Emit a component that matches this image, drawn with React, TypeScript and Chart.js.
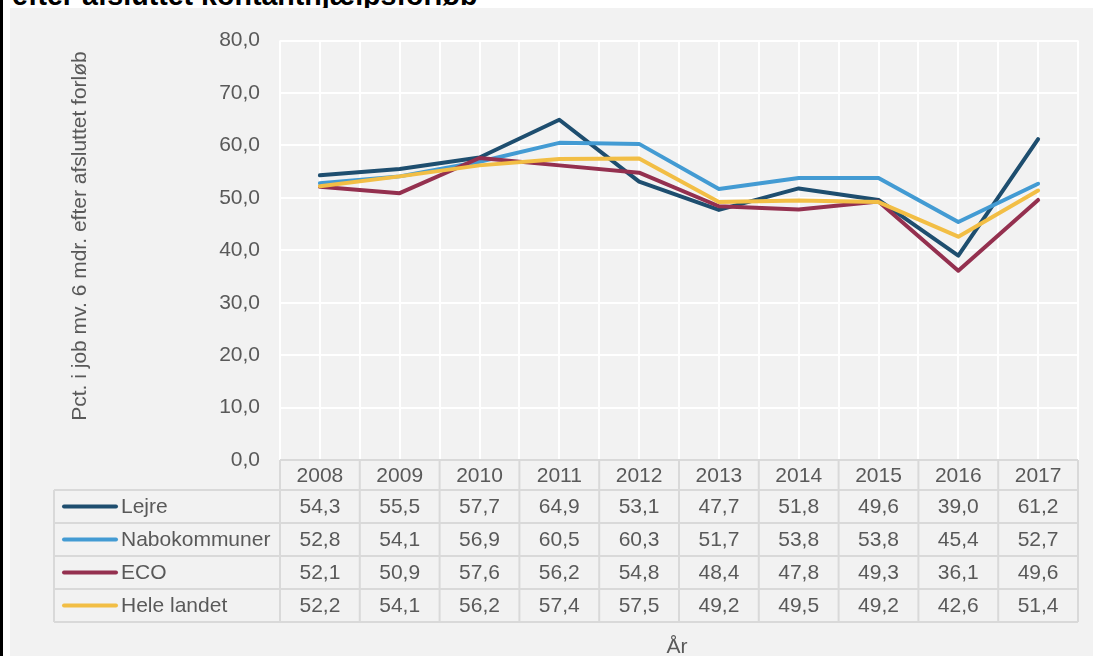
import React, { useEffect, useRef } from 'react';
import { Chart, registerables } from 'chart.js';

Chart.register(...registerables);

const years = ['2008', '2009', '2010', '2011', '2012', '2013', '2014', '2015', '2016', '2017'];
const seriesNames = ['Lejre', 'Nabokommuner', 'ECO', 'Hele landet'];
const lejre = [54.3, 55.5, 57.7, 64.9, 53.1, 47.7, 51.8, 49.6, 39.0, 61.2];
const nabokommuner = [52.8, 54.1, 56.9, 60.5, 60.3, 51.7, 53.8, 53.8, 45.4, 52.7];
const eco = [52.1, 50.9, 57.6, 56.2, 54.8, 48.4, 47.8, 49.3, 36.1, 49.6];
const heleLandet = [52.2, 54.1, 56.2, 57.4, 57.5, 49.2, 49.5, 49.2, 42.6, 51.4];
const seriesColors = ['#1e4e6f', '#439bd3', '#94304f', '#f2be45'];
const yAxisTitle = 'Pct. i job mv. 6 mdr. efter afsluttet forløb';
const xAxisTitle = 'År';
const chartTitle = 'efter afsluttet kontanthjælpsforløb';

const FONT = "'Liberation Sans', Arial, Helvetica, sans-serif";
const TEXT = '#595959';
const BORDER = '#d9d9d9';

const fmt = (v: number) => v.toFixed(1).replace('.', ',');

const allSeries = [lejre, nabokommuner, eco, heleLandet];

const tablePlugin = {
  id: 'dataTable',
  afterDraw(chart: any) {
    const ctx = chart.ctx as CanvasRenderingContext2D;
    const xs = chart.scales.x;
    const area = chart.chartArea;
    const half = (xs.getPixelForValue(1) - xs.getPixelForValue(0)) / 2;
    const top = area.bottom;
    const headerH = 30;
    const rowH = 33;
    const legendLeft = 44;
    const rowTops = [top + headerH];
    for (let i = 1; i <= allSeries.length; i++) rowTops.push(top + headerH + rowH * i);
    const bottom = rowTops[rowTops.length - 1];

    ctx.save();
    ctx.strokeStyle = BORDER;
    ctx.lineWidth = 2;
    ctx.beginPath();
    ctx.moveTo(area.left, top);
    ctx.lineTo(area.right, top);
    rowTops.forEach((y) => {
      ctx.moveTo(legendLeft, y);
      ctx.lineTo(area.right, y);
    });
    ctx.moveTo(legendLeft, rowTops[0]);
    ctx.lineTo(legendLeft, bottom);
    for (let i = 0; i <= years.length; i++) {
      const x = i < years.length ? xs.getPixelForValue(i) - half : xs.getPixelForValue(years.length - 1) + half;
      ctx.moveTo(x, top);
      ctx.lineTo(x, bottom);
    }
    ctx.stroke();

    ctx.font = `21px ${FONT}`;
    ctx.fillStyle = TEXT;
    ctx.textBaseline = 'middle';
    ctx.textAlign = 'center';
    years.forEach((yr, i) => {
      ctx.fillText(yr, xs.getPixelForValue(i), top + headerH / 2 + 1);
    });
    allSeries.forEach((vals, r) => {
      const cy = rowTops[r] + rowH / 2 + 1;
      vals.forEach((v, i) => {
        ctx.fillText(fmt(v), xs.getPixelForValue(i), cy);
      });
    });
    ctx.textAlign = 'left';
    seriesNames.forEach((name, r) => {
      const cy = rowTops[r] + rowH / 2;
      ctx.strokeStyle = seriesColors[r];
      ctx.lineWidth = 4;
      ctx.lineCap = 'round';
      ctx.beginPath();
      ctx.moveTo(54, cy);
      ctx.lineTo(106, cy);
      ctx.stroke();
      ctx.fillStyle = TEXT;
      ctx.fillText(name, 111, cy + 1);
    });

    ctx.textAlign = 'center';
    ctx.fillText(xAxisTitle, (area.left + area.right) / 2 - 2, 639);

    ctx.translate(70, 228);
    ctx.rotate(-Math.PI / 2);
    ctx.font = `21px ${FONT}`;
    ctx.fillText(yAxisTitle, 0, 0);
    ctx.restore();
  },
};

export default function App() {
  const canvasRef = useRef<HTMLCanvasElement | null>(null);

  useEffect(() => {
    if (!canvasRef.current) return;
    Chart.defaults.font.family = FONT;
    const chart = new Chart(canvasRef.current, {
      type: 'line',
      data: {
        labels: years,
        datasets: seriesNames.map((name, i) => ({
          label: name,
          data: allSeries[i],
          borderColor: seriesColors[i],
          backgroundColor: seriesColors[i],
          borderWidth: 4,
          pointRadius: 0,
          pointHoverRadius: 0,
          tension: 0,
          borderCapStyle: 'round' as const,
          borderJoinStyle: 'round' as const,
          order: seriesNames.length - i,
        })),
      },
      options: {
        animation: false,
        responsive: false,
        devicePixelRatio: 1,
        layout: { padding: { top: 29, right: 15, left: 0, bottom: 0 } },
        plugins: {
          legend: { display: false },
          tooltip: { enabled: false },
          title: { display: false },
        },
        scales: {
          x: {
            type: 'category',
            offset: true,
            position: 'bottom',
            grid: { color: '#ffffff', lineWidth: 2, drawTicks: false, offset: false },
            border: { display: false },
            ticks: { display: false },
            afterFit: (s: any) => {
              s.height = 196;
            },
          },
          x2: {
            type: 'category',
            offset: true,
            position: 'bottom',
            grid: { color: '#ffffff', lineWidth: 2, drawTicks: false, offset: true },
            border: { display: false },
            ticks: { display: false },
            afterFit: (s: any) => {
              s.height = 0;
            },
          },
          y: {
            min: 0,
            max: 80,
            grid: { color: '#ffffff', lineWidth: 2, drawTicks: false },
            border: { display: false },
            ticks: {
              stepSize: 10,
              padding: 20,
              color: TEXT,
              font: { size: 21, family: FONT },
              callback: (v: any) => fmt(Number(v)),
            },
            afterFit: (s: any) => {
              s.width = 270;
            },
          },
        },
      } as any,
      plugins: [tablePlugin],
    });
    return () => chart.destroy();
  }, []);

  return (
    <div
      style={{
        position: 'fixed',
        left: 0,
        top: 0,
        width: 1093,
        height: 656,
        background: '#ffffff',
        overflow: 'hidden',
      }}
    >
      <div style={{ position: 'absolute', left: 0, top: 0, width: 3, height: 656, background: '#000' }} />
      <div
        style={{
          position: 'absolute',
          left: 12,
          top: -19,
          fontFamily: FONT,
          fontWeight: 'bold',
          fontSize: 28.6,
          lineHeight: '28px',
          color: '#000',
          whiteSpace: 'nowrap',
        }}
      >
        {chartTitle}
      </div>
      <div
        style={{
          position: 'absolute',
          left: 10,
          top: 8,
          width: 1083,
          height: 648,
          background: '#f2f2f2',
        }}
      >
        <canvas ref={canvasRef} width={1083} height={648} style={{ display: 'block' }} />
      </div>
    </div>
  );
}
